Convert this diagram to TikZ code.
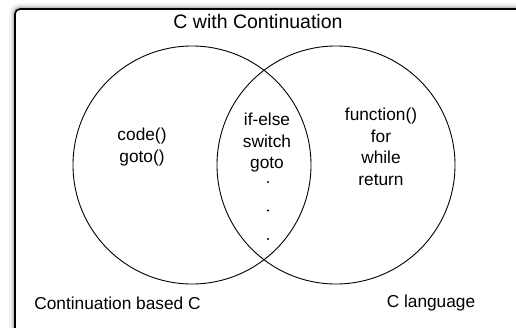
\documentclass[tikz,border=0pt]{standalone}
\usepackage{fontspec}
\setmainfont{Liberation Sans}
\begin{document}
\begin{tikzpicture}[x=1pt,y=-1pt,
  set/.style={draw=black,line width=0.9pt},
  label/.style={inner sep=0pt,align=center,font=\fontsize{17.3}{21.5}\selectfont},
  title/.style={inner sep=0pt,font=\fontsize{19.5}{23}\selectfont},
  dotmark/.style={circle,fill=black,inner sep=0pt,minimum size=2.3pt},
  frame/.style={draw=black,line width=1.6pt,rounded corners=5pt}]
\useasboundingbox (0,0) rectangle (516,327);
\clip (0,0) rectangle (516,327);
\fill[white] (0,0) rectangle (516,327);

% soft shadow around the outer frame
\foreach \w/\op in {12/0.04,9/0.05,6/0.07,4/0.09,2.5/0.12}{
  \draw[black,opacity=\op,line width=\w pt,rounded corners=5pt] (15,9) rectangle (540,350);
}
\fill[white,rounded corners=5pt] (15,9) rectangle (540,350);
\draw[frame] (15,9) rectangle (540,350);

% the two sets
\node[set,circle,minimum size=238pt,inner sep=0pt] (cbc) at (192,165) {};
\node[set,circle,minimum size=238pt,inner sep=0pt] (clang) at (336,165) {};

% texts
\node[title] (ttl) at (258,22) {C with Continuation};
\node[label] (only) at (142,147) {code()\\goto()};
\node[label] (both) at (267,143) {if-else\\switch\\goto};
\node[dotmark] (d1) at (268,182) {};
\node[dotmark] (d2) at (268,210.5) {};
\node[dotmark] (d3) at (268,239) {};
\node[label] (conly) at (381,147) {function()\\for\\while\\return};
\node[label] (lcbc) at (117.5,303) {Continuation based C};
\node[label] (lc) at (431,303) {C language};
\end{tikzpicture}
\end{document}
